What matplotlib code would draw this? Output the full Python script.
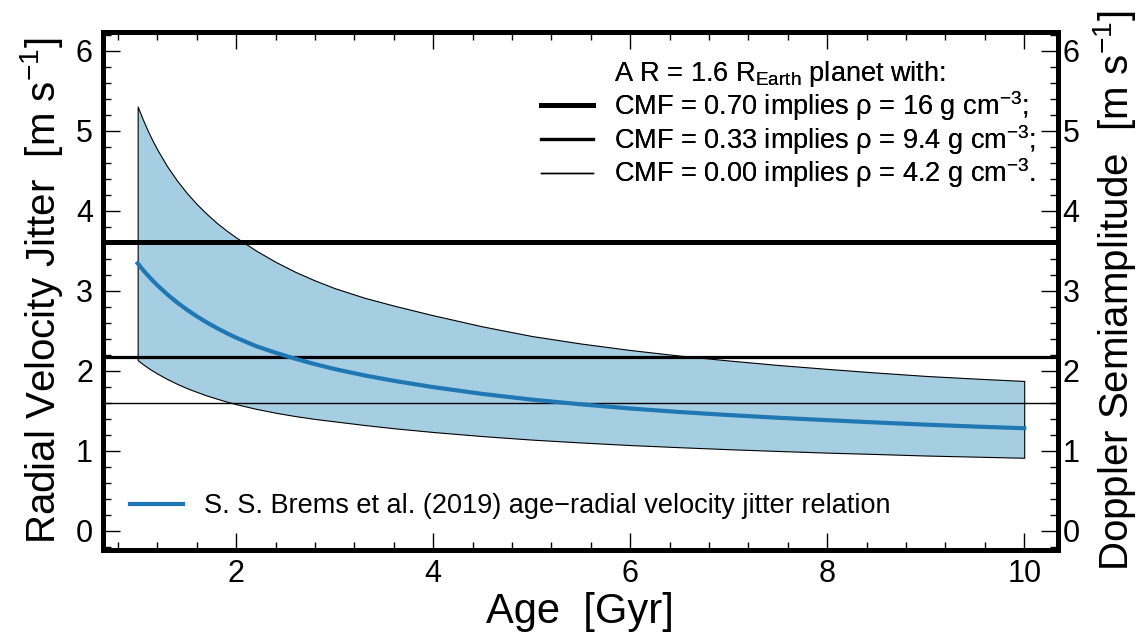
import matplotlib
matplotlib.use("Agg")
import matplotlib.pyplot as plt
from matplotlib.lines import Line2D
from matplotlib.ticker import MultipleLocator

# valores
idade = [1.0, 1.05, 1.1, 1.15, 1.2, 1.3, 1.4, 1.5, 1.6, 1.7, 1.8, 1.9, 2.0, 2.2, 2.4,
         2.6, 2.8, 3.0, 3.3, 3.6, 4.0, 4.5, 5.0, 5.5, 6.0, 6.5, 7.0, 7.5, 8.0, 8.5,
         9.0, 9.5, 10.0]
jitter_medio = [3.34, 3.264, 3.194, 3.128, 3.066, 2.953, 2.851, 2.761, 2.678, 2.603,
                2.534, 2.470, 2.411, 2.306, 2.223, 2.148, 2.080, 2.019, 1.940, 1.872,
                1.793, 1.708, 1.637, 1.578, 1.526, 1.482, 1.444, 1.410, 1.380, 1.351,
                1.324, 1.300, 1.279]
jitter_sup = [5.30, 5.146, 5.005, 4.877, 4.760, 4.552, 4.374, 4.218, 4.081, 3.959,
              3.849, 3.752, 3.663, 3.501, 3.359, 3.234, 3.126, 3.030, 2.911, 2.812,
              2.691, 2.552, 2.432, 2.338, 2.257, 2.187, 2.126, 2.070, 2.021, 1.975,
              1.933, 1.900, 1.870]
jitter_inf = [2.13, 2.083, 2.039, 1.999, 1.962, 1.894, 1.834, 1.780, 1.733, 1.689,
              1.650, 1.613, 1.580, 1.522, 1.473, 1.431, 1.395, 1.365, 1.320, 1.279,
              1.232, 1.181, 1.137, 1.101, 1.069, 1.042, 1.017, 0.995, 0.974, 0.957,
              0.938, 0.924, 0.910]

# semiamplitude doppler para cada CMF
semiamplitude = [3.61, 2.165, 1.59]
rotulos_cmf = [
    r"CMF = 0.70 implies ρ = 16 g cm$^{-3}$;",
    r"CMF = 0.33 implies ρ = 9.4 g cm$^{-3}$;",
    r"CMF = 0.00 implies ρ = 4.2 g cm$^{-3}$.",
]
espessuras = [3.6, 2.3, 1.0]

plt.rcParams["font.family"] = ["Liberation Sans", "DejaVu Sans"]
plt.rcParams["mathtext.fontset"] = "custom"
plt.rcParams["mathtext.rm"] = "Liberation Sans"
plt.rcParams["mathtext.it"] = "Liberation Sans:italic"
plt.rcParams["mathtext.bf"] = "Liberation Sans:bold"

fig = plt.figure(figsize=(11.41, 6.43), dpi=100)
ax = fig.add_axes([0.09, 0.145, 0.837, 0.805])

ax.fill_between(idade, jitter_inf, jitter_sup, facecolor="#a6cee3",
                edgecolor="black", linewidth=0.8, zorder=1)

linhas = []
for valor, lw in zip(semiamplitude, espessuras):
    ax.axhline(valor, color="black", linewidth=lw, zorder=2)
    linhas.append(Line2D([], [], color="black", linewidth=lw))

linha_brems, = ax.plot(idade, jitter_medio, color="#1f78b4", linewidth=3, zorder=3,
                       label="S. S. Brems et al. (2019) age\u2212radial velocity jitter relation")

ax.set_xlim(0.645, 10.34)
ax.set_ylim(-0.24, 6.23)

ax.xaxis.set_major_locator(MultipleLocator(2))
ax.xaxis.set_minor_locator(MultipleLocator(0.4))
ax.yaxis.set_major_locator(MultipleLocator(1))
ax.yaxis.set_minor_locator(MultipleLocator(0.2))
ax.tick_params(which="both", direction="in", top=True, right=False, labelsize=22, width=1)
ax.tick_params(which="major", length=12)
ax.tick_params(which="minor", length=5.5)
ax.tick_params(axis="x", pad=7)
ax.tick_params(axis="y", pad=7)
for lado in ax.spines.values():
    lado.set_linewidth(3.5)

ax2 = ax.twinx()
ax2.set_ylim(ax.get_ylim())
ax2.yaxis.set_major_locator(MultipleLocator(1))
ax2.yaxis.set_minor_locator(MultipleLocator(0.2))
ax2.tick_params(which="both", direction="in", labelsize=22, width=1)
ax2.tick_params(which="major", length=12)
ax2.tick_params(which="minor", length=5.5)
for lado in ax2.spines.values():
    lado.set_linewidth(3.5)

ax.set_xlabel("Age  [Gyr]", fontsize=30, labelpad=2)
ax.set_ylabel(r"Radial Velocity Jitter  [m s$^{-1}$]", fontsize=29, labelpad=8)
ax2.set_ylabel(r"Doppler Semiamplitude  [m s$^{-1}$]", fontsize=29, labelpad=8)

titulo = Line2D([], [], color="none")
leg1 = ax2.legend([titulo] + linhas,
                  [r"A R = 1.6 R$_{\mathrm{Earth}}$ planet with:"] + rotulos_cmf,
                  loc="upper left", bbox_to_anchor=(0.436, 0.99), frameon=False,
                  fontsize=19.5, handlelength=1.92, handletextpad=0.8,
                  labelspacing=0.0, borderpad=0.3)
ax2.add_artist(leg1)

ax.legend(handles=[linha_brems], loc="lower left", bbox_to_anchor=(0.003, 0.012),
          frameon=False, fontsize=19.5, handlelength=1.95, handletextpad=0.8)

fig.savefig("out.png", dpi=100)
plt.close(fig)
